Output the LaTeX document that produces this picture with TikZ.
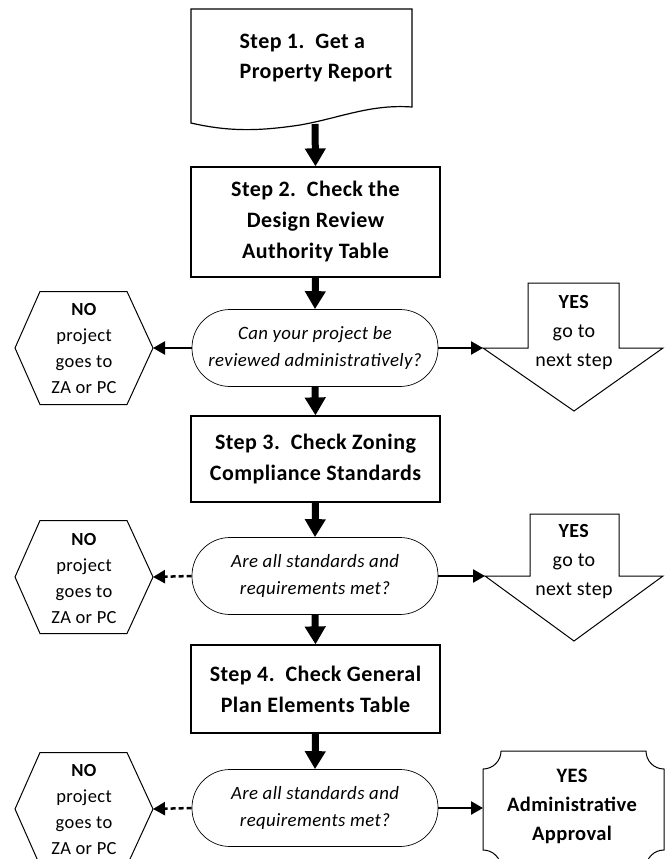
\documentclass[tikz,border=0pt]{standalone}
\usepackage{fontspec}
\setmainfont{Carlito}[LetterSpace=2]
\usetikzlibrary{arrows.meta}
\begin{document}
\begin{tikzpicture}[x=1pt,y=-1pt,
  stepbox/.style={draw, line width=1.2pt, minimum width=249pt, align=center,
    font=\bfseries\fontsize{22}{31}\selectfont, inner sep=0pt},
  decbox/.style={draw, line width=0.7pt, rounded corners=38pt, minimum width=246pt,
    minimum height=77pt, align=center, font=\itshape\fontsize{18.8}{27}\selectfont, inner sep=0pt},
  shapeline/.style={draw, line width=1pt},
  hextext/.style={align=center, font=\fontsize{18.5}{26}\selectfont, inner sep=0pt},
  yestext/.style={align=center, font=\fontsize{20}{29}\selectfont, inner sep=0pt},
  vflow/.style={line width=7pt, -{Triangle[width=20pt,length=18pt]}},
  hflow/.style={line width=2.5pt, -{Triangle[width=13pt,length=12pt]}},
  hdash/.style={hflow, dash pattern=on 5pt off 3pt}
]
\useasboundingbox (0,0) rectangle (667,859);

% Step 1 document shape
\draw[shapeline, line width=1.2pt] (191,9) -- (412,9) -- (412,107)
  .. controls (370,104) and (340,118) .. (300,125)
  .. controls (260,131) and (230,132) .. (191,123) -- cycle;
\node[font=\bfseries\fontsize{22}{30}\selectfont, align=left, inner sep=0pt] (s1) at (316,58)
  {Step 1.\ \ Get a\\Property Report};
\coordinate (s1b) at (315,124);

% Steps
\node[stepbox, minimum height=110pt] (s2) at (315.5,222) {Step 2.\ \ Check the\\Design Review\\Authority Table};
\node[stepbox, minimum height=86pt] (s3) at (315.5,459) {Step 3.\ \ Check Zoning\\Compliance Standards};
\node[stepbox, minimum height=88pt] (s4) at (315.5,689) {Step 4.\ \ Check General\\Plan Elements Table};

% Decisions
\node[decbox] (d1) at (315,348) {Can your project be\\reviewed administratively?};
\node[decbox] (d2) at (315,576) {Are all standards and\\requirements met?};
\node[decbox] (d3) at (315,808) {Are all standards and\\requirements met?};

% NO hexagons
\foreach \cy/\nm in {348/1, 577/2, 809/3}{
  \draw[shapeline] (15,\cy) -- (40,\cy-56.5) -- (127,\cy-56.5) -- (153,\cy)
    -- (127,\cy+56.5) -- (40,\cy+56.5) -- cycle;
  \coordinate (noin\nm) at (153,\cy);
}
\node[hextext] (no1) at (84,348) {\textbf{NO}\\project\\goes to\\ZA or PC};
\node[hextext] (no2) at (84,578) {\textbf{NO}\\project\\goes to\\ZA or PC};
\node[hextext] (no3) at (84,809) {\textbf{NO}\\project\\goes to\\ZA or PC};

% YES arrows
\draw[shapeline] (483,348) -- (528,348) -- (528,283) -- (619,283) -- (619,348)
  -- (663,348) -- (574,411) -- cycle;
\coordinate (yesin1) at (483,348);
\node[yestext] (yes1) at (574,333) {\textbf{YES}\\go to\\next step};
\draw[shapeline] (485,576) -- (530,576) -- (530,514) -- (619,514) -- (619,576)
  -- (663,576) -- (574,641) -- cycle;
\coordinate (yesin2) at (485,576);
\node[yestext] (yes2) at (574,562) {\textbf{YES}\\go to\\next step};

% Administrative approval plaque
\def\r{18}
\draw[shapeline] (483+\r,751) -- (664-\r,751)
  .. controls (664-\r,751+0.552*\r) and (664-0.552*\r,751+\r) .. (664,751+\r)
  -- (664,868-\r)
  .. controls (664-0.552*\r,868-\r) and (664-\r,868-0.552*\r) .. (664-\r,868)
  -- (483+\r,868)
  .. controls (483+\r,868-0.552*\r) and (483+0.552*\r,868-\r) .. (483,868-\r)
  -- (483,751+\r)
  .. controls (483+0.552*\r,751+\r) and (483+\r,751+0.552*\r) .. (483+\r,751);
\coordinate (appin) at (483,808);
\node[yestext, font=\bfseries\fontsize{20.5}{29}\selectfont] (app) at (572,806) {YES\\Administrative\\Approval};

% vertical flow
\draw[vflow] (s1b) -- (s2.north);
\draw[vflow] (s2.south) -- (d1.north);
\draw[vflow] (d1.south) -- (s3.north);
\draw[vflow] (s3.south) -- (d2.north);
\draw[vflow] (d2.south) -- (s4.north);
\draw[vflow] (s4.south) -- (d3.north);

% horizontal flow
\draw[hflow] (d1.west) -- (noin1);
\draw[hflow] (d1.east) -- (yesin1);
\draw[hdash] (d2.west) -- (noin2);
\draw[hflow] (d2.east) -- (yesin2);
\draw[hdash] (d3.west) -- (noin3);
\draw[hflow] (d3.east) -- (appin);
\end{tikzpicture}
\end{document}
